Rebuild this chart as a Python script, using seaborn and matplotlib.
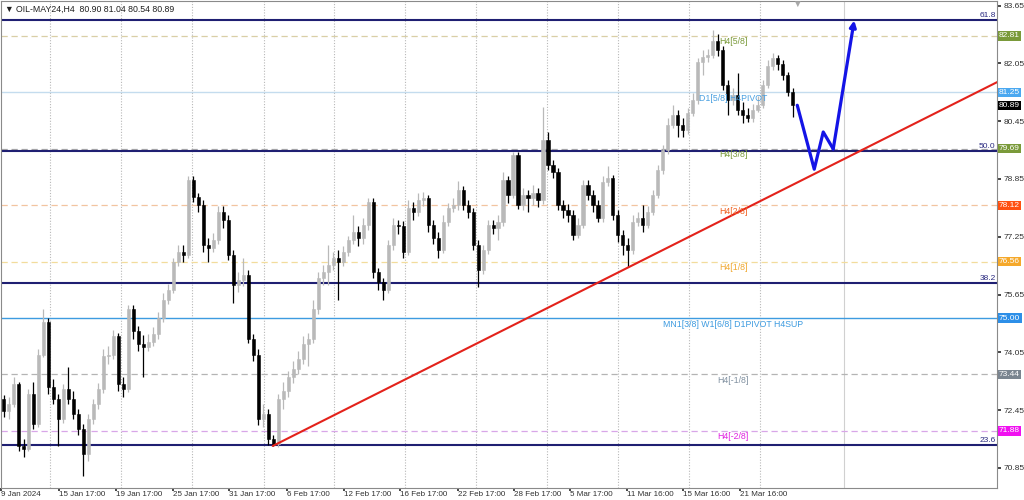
import matplotlib
matplotlib.use("Agg")
import matplotlib.pyplot as plt
import matplotlib.transforms as mtransforms
import numpy as np
import pandas as pd
import seaborn as sns

# ---------------- data (H4 OIL, aggregated 2 bars per candle) ----------------
first_open = 72.75
closes = [72.42, 72.61, 73.17, 71.46, 71.37, 72.89, 72.06, 73.99, 74.90, 73.08,
          72.75, 72.20, 73.03, 72.75, 72.34, 71.92, 71.23, 72.20, 72.61, 73.03,
          73.94, 73.99, 74.49, 73.17, 73.03, 75.24, 74.63, 74.27, 74.19, 74.35,
          74.55, 75.01, 75.51, 75.79, 76.56, 76.84, 76.75, 78.82, 78.35, 78.13,
          77.03, 76.95, 77.17, 77.94, 77.72, 76.75, 75.92, 76.06, 76.20, 74.41,
          73.99, 72.20, 72.34, 71.65, 71.51, 72.75, 72.97, 73.36, 73.58, 73.86,
          74.27, 74.41, 75.24, 76.12, 76.28, 76.48, 76.67, 76.56, 76.84, 77.17,
          77.39, 77.22, 77.58, 78.22, 76.28, 76.01, 75.79, 77.03, 77.58, 77.55,
          76.84, 78.05, 77.94, 78.27, 78.33, 77.58, 77.22, 76.89, 77.66, 78.05,
          78.13, 78.55, 78.13, 77.94, 77.03, 76.34, 76.89, 77.58, 77.50, 77.66,
          78.82, 78.41, 79.51, 78.13, 78.41, 78.33, 78.46, 78.27, 79.93, 79.24,
          79.04, 78.13, 77.99, 77.86, 77.30, 77.58, 78.68, 78.41, 78.13, 77.77,
          78.77, 78.88, 77.86, 77.30, 77.03, 76.89, 77.66, 77.77, 77.58, 77.94,
          78.41, 79.10, 79.65, 80.34, 80.62, 80.34, 80.20, 80.67, 81.03, 82.08,
          82.22, 82.27, 82.68, 82.41, 81.44, 81.03, 81.17, 80.75, 80.62, 80.53,
          80.75, 80.89, 81.44, 81.99, 82.19, 82.02, 81.72, 81.25, 80.89]
highs = [72.86, 72.81, 73.36, 73.22, 71.65, 73.03, 73.22, 74.13, 75.24, 75.01,
         73.30, 72.89, 73.17, 73.64, 72.97, 72.48, 72.06, 72.34, 72.75, 73.19,
         74.13, 74.24, 74.68, 74.60, 73.36, 75.35, 75.37, 74.79, 74.52, 74.55,
         74.74, 75.18, 75.68, 75.95, 76.67, 77.03, 77.03, 78.93, 78.93, 78.46,
         78.27, 77.22, 77.36, 78.10, 78.10, 77.86, 76.89, 76.28, 76.67, 76.34,
         74.57, 74.13, 72.61, 72.48, 71.76, 72.89, 73.22, 73.53, 73.80, 74.08,
         74.49, 74.60, 75.51, 76.28, 76.48, 77.03, 76.84, 76.89, 77.00, 77.28,
         77.86, 77.55, 77.77, 78.33, 78.33, 76.39, 76.12, 77.17, 77.77, 77.72,
         77.69, 78.27, 78.22, 78.46, 78.49, 78.41, 77.72, 77.39, 77.86, 78.19,
         78.33, 78.79, 78.66, 78.27, 78.05, 77.17, 77.03, 77.72, 77.72, 77.86,
         79.04, 78.93, 79.59, 79.59, 78.60, 78.55, 78.68, 78.60, 80.84, 80.15,
         79.37, 79.15, 78.27, 78.16, 77.99, 77.77, 78.82, 78.82, 78.55, 78.27,
         78.93, 79.21, 78.96, 77.99, 77.44, 77.22, 77.86, 77.94, 78.13, 78.10,
         78.55, 79.24, 79.79, 80.53, 80.89, 80.75, 80.53, 80.81, 81.22, 82.19,
         82.41, 82.46, 82.96, 82.85, 82.52, 81.58, 81.36, 81.77, 80.97, 80.81,
         80.92, 81.14, 81.58, 82.13, 82.35, 82.27, 82.13, 81.80, 81.36]
lows = [72.26, 72.20, 72.53, 71.32, 71.15, 71.32, 71.92, 71.98, 73.91, 72.89,
        72.61, 71.46, 72.09, 72.61, 72.20, 71.76, 70.63, 71.04, 72.06, 72.48,
        72.92, 73.72, 73.86, 72.97, 72.81, 72.95, 74.41, 74.08, 73.36, 74.08,
        74.24, 74.41, 74.90, 75.40, 75.68, 76.45, 76.56, 76.67, 78.22, 77.94,
        76.84, 76.56, 76.84, 77.06, 77.50, 76.61, 75.43, 75.73, 75.90, 74.30,
        73.80, 72.03, 71.98, 71.48, 71.46, 71.43, 72.48, 72.81, 73.19, 73.44,
        73.72, 73.66, 74.30, 75.12, 75.92, 75.92, 76.34, 75.51, 76.45, 76.73,
        77.06, 77.00, 77.06, 77.44, 76.12, 75.79, 75.51, 75.68, 76.89, 77.33,
        76.67, 76.75, 77.72, 77.83, 78.10, 77.39, 77.06, 76.67, 76.81, 77.55,
        77.94, 77.99, 77.99, 77.77, 76.89, 75.87, 76.23, 76.78, 77.33, 77.17,
        77.55, 78.19, 78.33, 78.02, 77.99, 77.94, 78.13, 78.08, 78.16, 79.10,
        78.88, 77.99, 77.77, 77.66, 77.17, 77.22, 77.50, 78.27, 77.94, 77.66,
        77.66, 78.66, 77.72, 77.11, 76.75, 76.42, 76.78, 77.55, 77.39, 77.50,
        77.86, 78.33, 78.99, 79.54, 80.26, 80.01, 80.01, 80.09, 80.59, 80.92,
        81.72, 82.08, 82.19, 82.24, 81.30, 80.62, 80.89, 80.62, 80.39, 80.42,
        80.42, 80.70, 80.81, 81.36, 81.86, 81.86, 81.58, 81.14, 80.56]

# time axis labels
time_labels = ["9 Jan 2024", "15 Jan 17:00", "19 Jan 17:00", "25 Jan 17:00",
               "31 Jan 17:00", "6 Feb 17:00", "12 Feb 17:00", "16 Feb 17:00",
               "22 Feb 17:00", "28 Feb 17:00", "5 Mar 17:00", "11 Mar 16:00",
               "15 Mar 16:00", "21 Mar 16:00"]
time_label_idx = [-0.5, 11.1, 22.5, 33.9, 45.1, 56.7, 68.1, 79.3, 90.9, 102.1,
                  113.5, 124.9, 136.1, 147.5]
grid_idx = [9.3, 23.5, 37.7, 52.1, 66.1, 80.3, 94.5, 108.9, 123.1, 137.3, 151.5]
future_sep_idx = 168.3

price_ticks = [83.65, 82.05, 80.45, 78.85, 77.25, 75.65, 74.05, 72.45, 70.85]

# Murrey math levels
murrey_prices = [82.81, 81.25, 79.69, 78.12, 76.56, 75.00, 73.44, 71.88]
murrey_names = ["H4[5/8]", "D1[5/8] H4PIVOT", "H4[3/8]", "H4[2/8]", "H4[1/8]",
                "MN1[3/8] W1[6/8] D1PIVOT H4SUP", "H4[-1/8]", "H4[-2/8]"]
murrey_line_colors = ["#d9cfa6", "#c4dcee", "#a8a8a8", "#f2c4a0", "#f2dc9c",
                      "#3d9be0", "#b4b4b4", "#d8a6e8"]
murrey_line_styles = ["--", "-", "--", "--", "--", "-", "--", "--"]
murrey_text_colors = ["#7a9a3a", "#4aa0e0", "#7a9a3a", "#f06020", "#f0a830",
                      "#3d9be0", "#8090a0", "#e020e0"]
murrey_box_colors = ["#7a9a3a", "#4aa8f0", "#7a9a3a", "#ff5010", "#f5a82a",
                     "#2d8fe8", "#7a8590", "#f010f0"]

# Fibonacci levels
fib_prices = [83.26, 79.63, 75.98, 71.48]
fib_names = ["61.8", "50.0", "38.2", "23.6"]

last_price = 80.89

# trend line anchors (candle index, price)
trend_x = [53.9, 198.9]
trend_y = [71.46, 81.53]

# forecast path (candle index, price)
path_x = [158.9, 162.3, 164.1, 166.1, 170.3]
path_y = [80.89, 79.12, 80.15, 79.68, 83.24]

# ---------------- figure ----------------
sns.set_theme(style="white")
plt.rcParams["font.family"] = ["Liberation Sans", "DejaVu Sans"]

fig = plt.figure(figsize=(10.24, 5.0), dpi=100)
ax = fig.add_axes([0.001, 0.024, 0.9727, 0.975])

n = len(closes)
idx = np.arange(n)
opens = [first_open] + closes[:-1]
df = pd.DataFrame({"i": idx, "open": opens, "high": highs, "low": lows, "close": closes})
df["bull"] = df["close"] >= df["open"]

bull_c = "#b9b9b9"
bear_c = "#000000"
colors = np.where(df["bull"], bull_c, bear_c)

# wicks
ax.vlines(df["i"], df["low"], df["high"], colors=colors, linewidth=0.9, zorder=3)
# bodies
body_bottom = np.minimum(df["open"], df["close"])
body_height = np.maximum(np.abs(df["close"] - df["open"]), 0.02)
ax.bar(df["i"], body_height, bottom=body_bottom, width=0.62, color=colors,
       edgecolor=colors, linewidth=0.4, zorder=4)

# vertical grid
for gx in grid_idx:
    ax.axvline(gx, color="#b8b8b8", linestyle=(0, (1, 1.5)), linewidth=0.8, zorder=1)
ax.axvline(future_sep_idx, color="#d0d0d0", linewidth=0.8, zorder=1)

trans = mtransforms.blended_transform_factory(ax.transAxes, ax.transData)

# Murrey lines + labels
for p, name, lc, ls, tc, bc in zip(murrey_prices, murrey_names, murrey_line_colors,
                                   murrey_line_styles, murrey_text_colors, murrey_box_colors):
    ax.axhline(p, color=lc, linestyle=ls if ls == "-" else (0, (5, 3)),
               linewidth=0.9 if ls == "--" else 1.0, zorder=2)
    ax.text(146.1, p - 0.04, name, color=tc, fontsize=6.3, ha="center", va="top", zorder=6)
    ax.text(1.002, p, f"{p:.2f}", transform=trans, color="white", fontsize=6.0,
            ha="left", va="center", zorder=10, clip_on=False,
            bbox=dict(boxstyle="square,pad=0.15", fc=bc, ec="none"))

# Fibonacci lines
for p, name in zip(fib_prices, fib_names):
    ax.axhline(p, color="#1f1f72", linewidth=1.5, zorder=2)
    ax.text(198.6, p + 0.03, name, color="#2a2a80", fontsize=6.0, ha="right",
            va="bottom", zorder=6)

# last price box
ax.text(1.002, last_price, f"{last_price:.2f}", transform=trans, color="white",
        fontsize=6.0, ha="left", va="center", zorder=11, clip_on=False,
        bbox=dict(boxstyle="square,pad=0.15", fc="black", ec="none"))

# trend line
sns.lineplot(x=trend_x, y=trend_y, ax=ax, color="#e3221b", linewidth=1.5, zorder=5,
             sort=False, estimator=None)

# forecast path with arrow
sns.lineplot(x=path_x[:-1], y=path_y[:-1], ax=ax, color="#1414e6", linewidth=2.3,
             zorder=7, sort=False, estimator=None)
ax.annotate("", xy=(path_x[-1], path_y[-1]), xytext=(path_x[-2], path_y[-2]),
            arrowprops=dict(arrowstyle="-|>", color="#1414e6", lw=2.3,
                            mutation_scale=9, shrinkA=0, shrinkB=0), zorder=7)

# title
ax.text(0.004, 0.992, "\u25BC OIL-MAY24,H4  80.90 81.04 80.54 80.89",
        transform=ax.transAxes, fontsize=6.3, ha="left", va="top", color="#202020")
ax.text(158.9, 83.84, "\u25BC", fontsize=7, color="#a8a8a8", ha="center", va="top")

# axes
ax.set_xlim(-0.5, 198.9)
ax.set_ylim(70.296, 83.79)
ax.yaxis.tick_right()
ax.set_yticks(price_ticks)
ax.set_yticklabels([f"{t:.2f}" for t in price_ticks])
ax.tick_params(axis="y", labelsize=6.0, length=3, pad=2, colors="#303030",
               direction="out", right=True, left=False)
ax.set_xticks(time_label_idx)
ax.set_xticklabels(time_labels, ha="left")
ax.tick_params(axis="x", labelsize=5.8, length=2, pad=0.5, colors="#303030",
               direction="out", bottom=True)
for s in ax.spines.values():
    s.set_color("#8a8a8a")
    s.set_linewidth(0.8)
ax.set_xlabel("")
ax.set_ylabel("")
if ax.get_legend():
    ax.get_legend().remove()

fig.savefig("out.png", dpi=100)
